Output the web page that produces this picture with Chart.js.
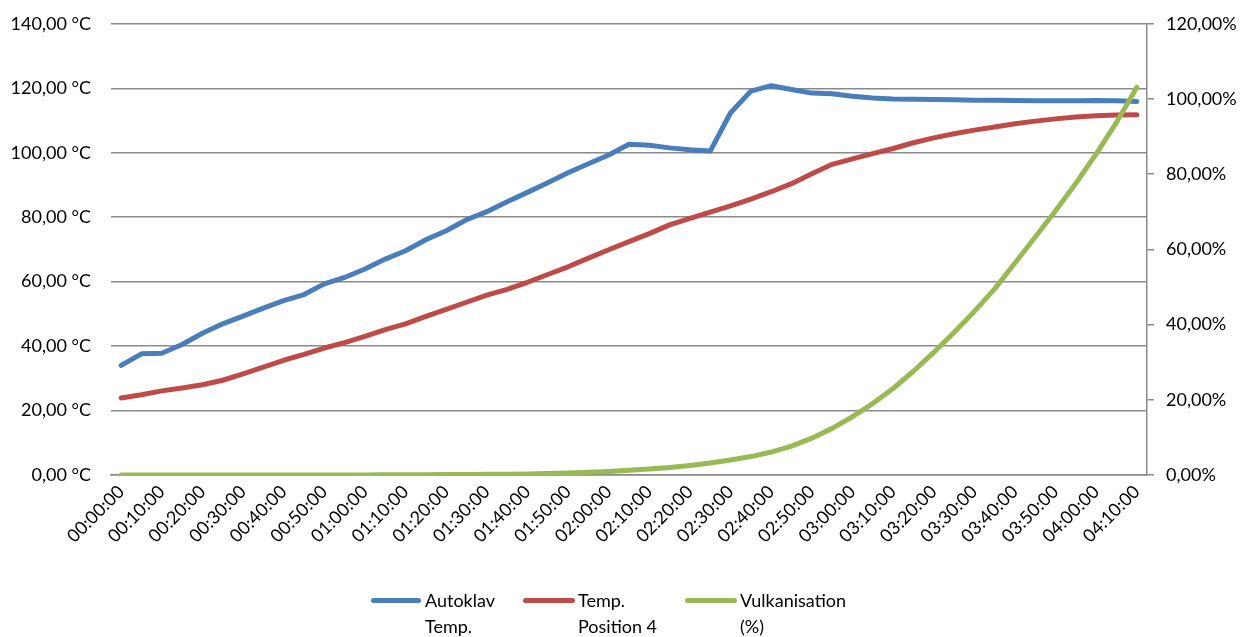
<!DOCTYPE html>
<html>
<head>
<meta charset="utf-8">
<script src="https://cdn.jsdelivr.net/npm/chart.js@4.4.1/dist/chart.umd.min.js"></script>
<style>
  html, body { margin: 0; padding: 0; background: #fff; }
  #wrap { position: relative; width: 1255px; height: 637px; overflow: hidden; }
  canvas { position: absolute; left: 0; top: -7px; }
  .lg-line { position: absolute; height: 5px; border-radius: 3px; }
  .lg-text { position: absolute; font-family: Lato, "Open Sans", sans-serif; font-size: 18px; line-height: 26px; color: #000; white-space: nowrap; }
</style>
</head>
<body>
<div id="wrap">
  <canvas id="c" width="1255" height="644"></canvas>
  <div class="lg-line" style="left:371px; top:598px; width:50px; background:#4A7EBB;"></div>
  <div class="lg-text" style="left:425px; top:587px;">Autoklav</div>
  <div class="lg-text" style="left:425px; top:613px;">Temp.</div>
  <div class="lg-line" style="left:523px; top:598px; width:52px; background:#BE4B48;"></div>
  <div class="lg-text" style="left:578px; top:587px;">Temp.</div>
  <div class="lg-text" style="left:578px; top:613px;">Position 4</div>
  <div class="lg-line" style="left:685px; top:598px; width:52px; background:#98B954;"></div>
  <div class="lg-text" style="left:740px; top:587px;">Vulkanisation</div>
  <div class="lg-text" style="left:740px; top:613px;">(%)</div>
</div>
<script>
const times = [
  "00:00:00","00:05:00","00:10:00","00:15:00","00:20:00","00:25:00","00:30:00","00:35:00","00:40:00","00:45:00",
  "00:50:00","00:55:00","01:00:00","01:05:00","01:10:00","01:15:00","01:20:00","01:25:00","01:30:00","01:35:00",
  "01:40:00","01:45:00","01:50:00","01:55:00","02:00:00","02:05:00","02:10:00","02:15:00","02:20:00","02:25:00",
  "02:30:00","02:35:00","02:40:00","02:45:00","02:50:00","02:55:00","03:00:00","03:05:00","03:10:00","03:15:00",
  "03:20:00","03:25:00","03:30:00","03:35:00","03:40:00","03:45:00","03:50:00","03:55:00","04:00:00","04:05:00",
  "04:10:00"
];

const autoklavTemp = [
  34.0, 37.6, 37.8, 40.5, 44.0, 46.9, 49.3, 51.8, 54.1, 56.0,
  59.3, 61.3, 63.9, 67.0, 69.6, 73.0, 75.8, 79.2, 81.7, 84.8,
  87.7, 90.7, 93.8, 96.6, 99.3, 102.6, 102.3, 101.5, 100.9, 100.5,
  112.4, 119.1, 120.8, 119.6, 118.5, 118.3, 117.5, 117.0, 116.7, 116.6,
  116.5, 116.4, 116.3, 116.3, 116.2, 116.1, 116.1, 116.1, 116.2, 116.1,
  115.9
];

const tempPosition4 = [
  23.9, 24.9, 26.1, 27.0, 28.0, 29.4, 31.4, 33.5, 35.6, 37.4,
  39.4, 41.1, 43.0, 45.1, 46.9, 49.2, 51.4, 53.6, 55.8, 57.6,
  59.8, 62.2, 64.6, 67.3, 69.9, 72.4, 74.9, 77.6, 79.6, 81.6,
  83.5, 85.6, 87.9, 90.4, 93.5, 96.4, 98.1, 99.7, 101.3, 103.1,
  104.6, 105.9, 107.0, 108.0, 109.0, 109.8, 110.5, 111.1, 111.5, 111.7,
  111.8
];

const vulkanisation = [
  0, 0, 0, 0, 0, 0, 0, 0.005, 0.01, 0.01,
  0.015, 0.02, 0.03, 0.04, 0.05, 0.07, 0.1, 0.13, 0.17, 0.22,
  0.29, 0.38, 0.55, 0.72, 0.95, 1.25, 1.6, 2.0, 2.55, 3.2,
  4.0, 4.9, 6.1, 7.7, 9.8, 12.4, 15.5, 19.0, 23.0, 27.6,
  32.6, 37.9, 43.5, 49.5, 56.4, 63.3, 70.3, 77.6, 85.4, 93.8,
  103.1
];

const leftTicks = { min: 0, max: 140, step: 20 };
const rightTicks = { min: 0, max: 120, step: 20 };

const fmt = v => v.toFixed(2).replace('.', ',');
const FONT = { family: 'Lato, "Open Sans", sans-serif', size: 18 };
const GRID = '#8a8a8a';

new Chart(document.getElementById('c'), {
  type: 'line',
  data: {
    labels: times,
    datasets: [
      { label: 'Autoklav Temp.', data: autoklavTemp, yAxisID: 'y', borderColor: '#4A7EBB', order: 3 },
      { label: 'Temp. Position 4', data: tempPosition4, yAxisID: 'y', borderColor: '#BE4B48', order: 2 },
      { label: 'Vulkanisation (%)', data: vulkanisation, yAxisID: 'y1', borderColor: '#98B954', order: 1 }
    ]
  },
  options: {
    responsive: false,
    animation: false,
    devicePixelRatio: 1,
    layout: { padding: { top: 15, left: 0, right: 0, bottom: 0 } },
    elements: {
      line: { borderWidth: 5, tension: 0, borderCapStyle: 'round', borderJoinStyle: 'round', fill: false },
      point: { radius: 0, hoverRadius: 0 }
    },
    plugins: { legend: { display: false }, tooltip: { enabled: false } },
    scales: {
      x: {
        type: 'category',
        offset: true,
        grid: { display: false, drawTicks: false },
        border: { display: true, color: GRID, width: 1.5 },
        ticks: {
          autoSkip: false,
          maxRotation: 45,
          minRotation: 45,
          padding: 6,
          color: '#000',
          font: FONT,
          callback: function (v, i) { return i % 2 === 0 ? times[i] : ''; }
        },
        afterFit: s => { s.height = 162; }
      },
      y: {
        position: 'left',
        min: leftTicks.min, max: leftTicks.max,
        grid: { color: GRID, lineWidth: 1.5, drawTicks: false },
        border: { display: false },
        ticks: { stepSize: leftTicks.step, padding: 20, color: '#000', font: FONT, callback: v => fmt(v) + ' °C' },
        afterFit: s => { s.width = 111; }
      },
      y1: {
        position: 'right',
        min: rightTicks.min, max: rightTicks.max,
        grid: { drawOnChartArea: false, color: GRID, lineWidth: 1.5, drawTicks: true, tickLength: 7 },
        border: { display: true, color: GRID, width: 1.5 },
        ticks: { stepSize: rightTicks.step, padding: 12, color: '#000', font: FONT, callback: v => fmt(v) + '%' },
        afterFit: s => { s.width = 108; }
      }
    }
  }
});
</script>
</body>
</html>
